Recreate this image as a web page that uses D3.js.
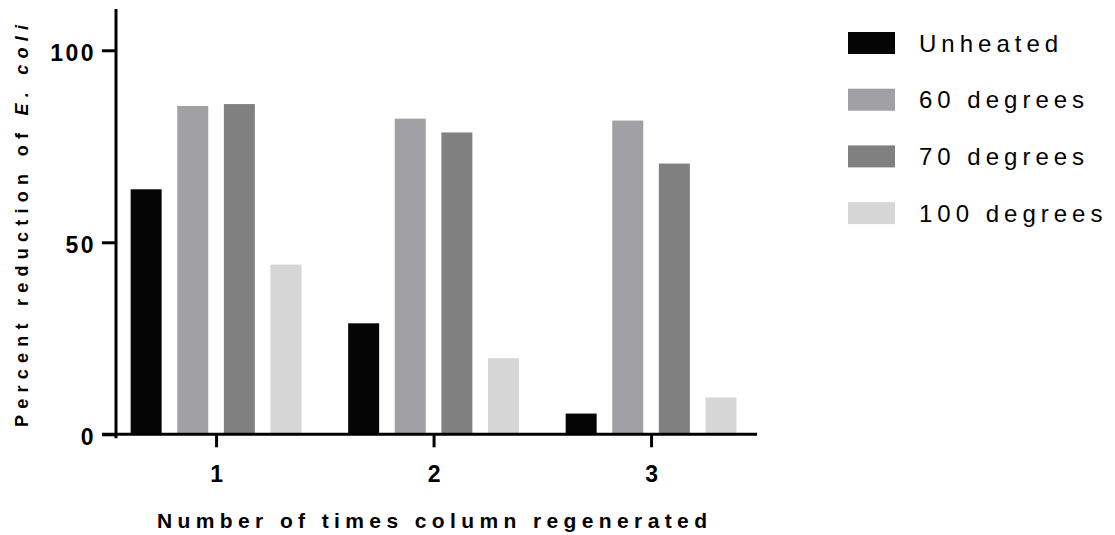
<!DOCTYPE html>
<html>
<head>
<meta charset="utf-8">
<script src="https://cdn.jsdelivr.net/npm/d3@7"></script>
<style>
  html, body { margin: 0; padding: 0; background: #fff; }
  svg { display: block; }
  text { font-family: "Liberation Sans", Arial, sans-serif; fill: #000; }
</style>
</head>
<body>
<svg id="chart" width="1115" height="535"></svg>
<script>
// ---- data ----
const categories = [1, 2, 3];
const seriesNames = ["Unheated", "60 degrees", "70 degrees", "100 degrees"];
const unheated = [63.8, 28.9, 5.4];
const deg60 = [85.5, 82.2, 81.7];
const deg70 = [86.0, 78.6, 70.5];
const deg100 = [44.2, 19.8, 9.6];
const yTicks = [0, 50, 100];
const seriesColors = ["#050505", "#a1a0a5", "#808080", "#d6d6d6"];

const seriesValues = [unheated, deg60, deg70, deg100];

const svg = d3.select("#chart");
const font = '"Liberation Sans", Arial, sans-serif';

// scales
const y = d3.scaleLinear().domain([0, 110.75]).range([434.3, 9]);
const x = d3.scaleLinear().domain([0.54, 3.487]).range([116, 757]);
const groupStep = x(2) - x(1);
const inner = d3.scaleBand()
  .domain(seriesNames)
  .range([-0.4286 * groupStep, 0.4286 * groupStep])
  .paddingInner(0.335)
  .paddingOuter(0.1675);

// bars
const rows = [];
categories.forEach((c, ci) => {
  seriesNames.forEach((s, si) => {
    rows.push({ cat: c, series: s, value: seriesValues[si][ci], color: seriesColors[si] });
  });
});

svg.append("g").selectAll("rect")
  .data(rows)
  .join("rect")
  .attr("x", d => x(d.cat) + inner(d.series))
  .attr("width", inner.bandwidth())
  .attr("y", d => y(d.value))
  .attr("height", d => y(0) - y(d.value))
  .attr("fill", d => d.color);

// y axis
const yAxis = svg.append("g")
  .attr("transform", `translate(${x.range()[0]},0)`)
  .call(d3.axisLeft(y).tickValues(yTicks).tickSize(14).tickPadding(9).tickSizeOuter(0));
yAxis.select(".domain").attr("stroke", "#000").attr("stroke-width", 3)
  .attr("d", `M0,${y.range()[1]}V${y(0) + 4}`);
yAxis.selectAll(".tick line").attr("stroke", "#000").attr("stroke-width", 3);
yAxis.selectAll(".tick text")
  .attr("font-family", font).attr("font-size", 23).attr("font-weight", "bold")
  .attr("letter-spacing", "2.5px").attr("dy", "0.45em").attr("fill", "#000")
  .attr("x", -20);

// x axis
const xAxis = svg.append("g")
  .attr("transform", `translate(0,${y(0)})`)
  .call(d3.axisBottom(x).tickValues(categories).tickFormat(d3.format("d")).tickSize(13).tickSizeOuter(0));
xAxis.select(".domain").attr("stroke", "#000").attr("stroke-width", 3)
  .attr("d", `M${x.range()[0] - 14},0H${x.range()[1]}`);
xAxis.selectAll(".tick line").attr("stroke", "#000").attr("stroke-width", 3);
xAxis.selectAll(".tick text")
  .attr("font-family", font).attr("font-size", 23).attr("font-weight", "bold")
  .attr("fill", "#000").attr("y", 48).attr("dy", 0);

// axis titles
svg.append("text")
  .attr("x", 157).attr("y", 528)
  .attr("font-size", 21).attr("font-weight", "bold")
  .attr("textLength", 550).attr("lengthAdjust", "spacing")
  .text("Number of times column regenerated");

const yt = svg.append("text")
  .attr("transform", "translate(28,427) rotate(-90)")
  .attr("x", 0).attr("y", 0)
  .attr("font-size", 18).attr("font-weight", "bold")
  .attr("textLength", 402).attr("lengthAdjust", "spacing");
yt.append("tspan").text("Percent reduction of ");
yt.append("tspan").attr("font-style", "italic").text("E. coli");

// legend
const legend = svg.append("g");
const lg = legend.selectAll("g")
  .data(seriesNames)
  .join("g")
  .attr("transform", (d, i) => `translate(848,${43 + i * 56.7})`);
lg.append("rect")
  .attr("x", 0).attr("y", -11).attr("width", 47).attr("height", 22)
  .attr("fill", (d, i) => seriesColors[i]);
lg.append("text")
  .attr("x", 71).attr("y", 0).attr("dy", "0.36em")
  .attr("font-size", 24).attr("letter-spacing", "5px")
  .text(d => d);
</script>
</body>
</html>
